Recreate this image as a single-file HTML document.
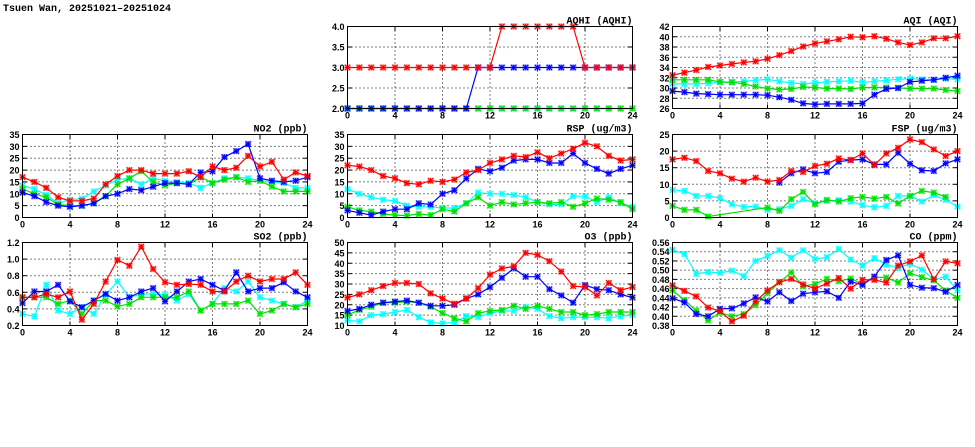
<!DOCTYPE html>
<html><head><meta charset="utf-8"><style>
html,body{margin:0;padding:0;background:#fff;width:975px;height:447px;overflow:hidden}
svg text{font-family:"Liberation Mono","DejaVu Sans Mono",monospace;}
svg text.tick{font-family:"Liberation Sans","DejaVu Sans",sans-serif;}
</style></head><body>
<svg id="chart" width="975" height="447" viewBox="0 0 975 447" xmlns="http://www.w3.org/2000/svg">
<text x="3" y="11" font-size="10" font-weight="bold" fill="#000">Tsuen Wan, 20251021–20251024</text>
</svg>
<script>
const hours = [0,1,2,3,4,5,6,7,8,9,10,11,12,13,14,15,16,17,18,19,20,21,22,23,24];
const xTicks = [0,4,8,12,16,20,24];
const seriesColors = ["#00ffff","#00e000","#0000ff","#ff0000"];
const seriesNames = ["cyan","green","blue","red"];

const aqhiTicks = [2.0,2.5,3.0,3.5,4.0];
const aqhiCyan = [2,2,2,2,2,2,2,2,2,2,2,2,2,2,2,2,2,2,2,2,2,2,2,2,2];
const aqhiGreen = [2,2,2,2,2,2,2,2,2,2,2,2,2,2,2,2,2,2,2,2,2,2,2,2,2];
const aqhiBlue = [2,2,2,2,2,2,2,2,2,2,2,3,3,3,3,3,3,3,3,3,3,3,3,3,3];
const aqhiRed = [3,3,3,3,3,3,3,3,3,3,3,3,3,4,4,4,4,4,4,4,3,3,3,3,3];

const aqiTicks = [26,28,30,32,34,36,38,40,42];
const aqiCyan = [30.8,30.8,30.8,30.9,31.1,31.2,31.3,31.5,31.7,31.3,31,30.8,31,31.2,31.3,31.4,31.1,31.3,31.5,31.7,31.8,31.7,31.6,31.8,31.7];
const aqiGreen = [31.6,31.6,31.6,31.6,31.2,31.1,30.8,30.3,29.9,29.7,29.8,30.2,30.1,29.9,29.9,29.8,30.1,30.1,30.1,30,29.9,29.9,29.9,29.6,29.4];
const aqiBlue = [29.4,29.2,28.9,28.8,28.7,28.7,28.7,28.7,28.6,28.2,27.7,27,26.8,26.9,26.9,26.9,27,28.7,29.8,30,31.2,31.4,31.6,32,32.4];
const aqiRed = [32.5,33,33.5,34.1,34.4,34.7,35,35.2,35.7,36.4,37.2,38.1,38.7,39.1,39.5,40,39.9,40.1,39.6,38.9,38.4,38.9,39.7,39.7,40.1];

const no2Ticks = [0,5,10,15,20,25,30,35];
const no2Cyan = [13.5,12,9.5,6,7.5,8,11,13.5,16,16.5,14,16.5,15.5,15,14.5,12.5,14.5,16.5,17,16.5,15.5,15,14.5,12.5,12.5];
const no2Green = [12,10,8.5,5.5,5,5,6,9,14,16.5,19.5,15,13.5,14.5,14,17,14.5,16,17,15,15.5,13,11,11,11];
const no2Blue = [10.5,9,6.5,5,4.5,5,6,9,10,12,11.5,13,14.5,14.5,14,19,19.5,25.5,28,31,16.5,15.5,15,15.5,17];
const no2Red = [17,15,12.5,8.5,7,7,8,14,17.5,20,20,18.5,18.5,18.5,19.5,17,21.5,20,21,26,21.5,23.5,16,19,17.5];

const rspTicks = [0,5,10,15,20,25,30,35];
const rspCyan = [12,10,8.5,7.5,7,5,4.5,4.5,4,4,6,10.5,10,10,9.5,8.5,6.5,5.5,5.5,9,9,6.5,8.5,6,4.5];
const rspGreen = [4.5,3,2.5,1.5,1,0.8,1.5,1,3.5,2.5,6,8.5,5,6.5,5.5,6,6.5,6,6.5,4.5,6,8,7.5,6.5,3.5];
const rspBlue = [3,2,1,2.5,3.5,3.5,6,5.5,10,11.5,16.5,20.5,19.5,21,24,24.5,24.5,23,23,27,23,20.5,18.5,20.5,22];
const rspRed = [22,21.5,20,17.5,16.5,14.5,14,15.5,15,16,19,20,23,24.5,26,25.5,27.5,25,27,29,31.5,30,26,24,24.5];

const fspTicks = [0,5,10,15,20,25];
const fspCyan = [8.3,8,6.5,6.5,5.8,4,3.2,3.3,2.3,2.5,3.5,5.5,4.3,5,5.2,4.8,3.7,3.1,3.5,6.5,6.5,4.8,6.7,5.3,3.3];
const fspGreen = [3.5,2.3,2.3,0.3,null,null,null,null,3,2,5.5,7.7,4,5.3,4.8,5.8,6.2,5.7,6.2,4.2,6.5,8,7.5,6.2,null];
const fspBlue = [null,null,null,null,null,null,null,null,null,10.5,13.3,14.5,13.3,13.7,16.8,17.3,17.5,16,16,19.5,16.2,14.2,14,16.3,17.5];
const fspRed = [17.5,18,17,14,13.3,11.7,10.8,12,10.8,11.3,14,13.7,15.5,16.2,17.8,17.3,19.3,15.8,19.3,21,23.5,22.7,20.5,18.5,20];

const so2Ticks = [0.2,0.4,0.6,0.8,1.0,1.2];
const so2Cyan = [0.34,0.31,0.69,0.38,0.34,0.42,0.34,0.57,0.73,0.54,0.58,0.58,0.57,0.5,0.58,0.38,0.46,0.65,0.61,0.73,0.54,0.5,0.46,0.42,0.5];
const so2Green = [0.54,0.54,0.54,0.46,0.5,0.34,0.5,0.5,0.43,0.46,0.54,0.54,0.54,0.54,0.61,0.38,0.46,0.46,0.46,0.5,0.34,0.38,0.46,0.42,0.46];
const so2Blue = [0.47,0.61,0.61,0.69,0.49,0.42,0.5,0.58,0.5,0.54,0.61,0.65,0.49,0.61,0.73,0.76,0.69,0.62,0.84,0.61,0.65,0.65,0.72,0.61,0.54];
const so2Red = [0.54,0.54,0.58,0.54,0.61,0.27,0.46,0.73,0.99,0.92,1.15,0.88,0.72,0.69,0.7,0.69,0.61,0.61,0.73,0.8,0.73,0.76,0.76,0.84,0.69];

const o3Ticks = [10,15,20,25,30,35,40,45,50];
const o3Cyan = [12.5,12,15,15.5,16.5,17.5,14,11.5,11,11.5,14.5,14,16,17,17,19,18,14.5,13.5,14,14,14,13.5,14.5,15];
const o3Green = [15,17.5,19,21,21,21.5,21,19,16,13.5,12,16,17,17.5,19.5,18,19.5,18,16.5,16.5,15,15.5,16.5,16.5,16.5];
const o3Blue = [17,18,20,21,21.5,22,21,19.5,19.5,20,23,25,28.5,33,37.5,33.5,33.5,27.5,24.5,21,29.5,27.5,27,25,23.5];
const o3Red = [23.5,25,27,29,30.5,30.5,30,25.5,23,20.5,23,28,34.5,37.5,38.5,45,44,41,36,29,28.5,24.5,30.5,27,28.5];

const coTicks = [0.38,0.40,0.42,0.44,0.46,0.48,0.50,0.52,0.54,0.56];
const coCyan = [0.544,0.535,0.492,0.496,0.494,0.499,0.487,0.52,0.531,0.543,0.527,0.543,0.524,0.528,0.546,0.523,0.51,0.526,0.512,0.505,0.514,0.501,0.48,0.486,0.456];
const coGreen = [0.456,0.435,0.412,0.391,0.408,0.4,0.405,0.424,0.45,0.474,0.495,0.465,0.47,0.481,0.476,0.482,0.47,0.485,0.484,0.473,0.493,0.485,0.478,0.456,0.44];
const coBlue = [0.439,0.43,0.405,0.4,0.416,0.417,0.428,0.441,0.432,0.452,0.433,0.449,0.452,0.454,0.44,0.475,0.468,0.486,0.522,0.532,0.468,0.462,0.461,0.453,0.468];
const coRed = [0.467,0.455,0.443,0.419,0.411,0.389,0.401,0.432,0.456,0.474,0.481,0.469,0.46,0.471,0.483,0.46,0.479,0.479,0.473,0.51,0.519,0.532,0.48,0.519,0.515];

const NS = "http://www.w3.org/2000/svg";
const svg = document.getElementById("chart");
function mk(tag, attrs, parent){
  const e = document.createElementNS(NS, tag);
  for (const k in attrs) e.setAttribute(k, attrs[k]);
  (parent||svg).appendChild(e);
  return e;
}
function panel(name, title, box, ticks, dec, series){
  const [x0,x1,y0,y1] = box;
  const ymin = ticks[0], ymax = ticks[ticks.length-1];
  const xs = h => x0 + (h/24)*(x1-x0);
  const ys = v => y1 - (v-ymin)/(ymax-ymin)*(y1-y0);
  const g = mk("g", {});
  
  
  ticks.forEach((t,i)=>{
    const y = ys(t);
    if (i>0 && i<ticks.length-1) {
      const l = mk("line",{x1:x0,x2:x1,y1:y,y2:y,stroke:"#000","stroke-width":1,"stroke-dasharray":"1,3"},g);
      
      
    }
    mk("line",{x1:x0,x2:x0+4,y1:y,y2:y,stroke:"#000"},g);
    mk("line",{x1:x1-4,x2:x1,y1:y,y2:y,stroke:"#000"},g);
    const tx = mk("text",{class:"tick",x:x0-3,y:y+3.5,"font-size":"9","font-weight":"bold","text-anchor":"end",fill:"#000"},g);
    tx.textContent = t.toFixed(dec);
    
    
  });
  xTicks.forEach((h,i)=>{
    const x = xs(h);
    if (i>0 && i<xTicks.length-1) {
      const l = mk("line",{x1:x,x2:x,y1:y0,y2:y1,stroke:"#000","stroke-width":1,"stroke-dasharray":"1,3"},g);
      
      
    }
    mk("line",{x1:x,x2:x,y1:y1,y2:y1-4,stroke:"#000"},g);
    mk("line",{x1:x,x2:x,y1:y0,y2:y0+4,stroke:"#000"},g);
    const tx = mk("text",{class:"tick",x:x,y:y1+10,"font-size":"9","font-weight":"bold","text-anchor":"middle",fill:"#000"},g);
    tx.textContent = String(h);
    
    
  });
  const clipId = "clip-" + name;
  const cp = mk("clipPath",{id:clipId},g);
  mk("rect",{x:x0-5,y:y0-5,width:x1-x0+10,height:y1-y0+10},cp);
  const sg = mk("g",{"clip-path":"url(#"+clipId+")"},g);
  series.forEach((vals,si)=>{
    const col = seriesColors[si];
    let d = "", pen = false;
    vals.forEach((v,i)=>{
      if (v===null){ return; }
      d += (pen ? "L" : "M") + xs(hours[i]).toFixed(1) + "," + ys(v).toFixed(1);
      pen = true;
    });
    const p = mk("path",{d:d,fill:"none",stroke:col,"stroke-width":1.2},sg);
    
    
    vals.forEach((v,i)=>{
      if (v===null) return;
      const cx = xs(hours[i]), cy = ys(v), r = 2.7;
      const m = mk("g",{},sg);
      
      
      mk("rect",{x:cx-3.2,y:cy-3.2,width:6.4,height:6.4,fill:col,opacity:0.3},m);
      mk("path",{d:`M${cx-r},${cy-r}L${cx+r},${cy+r}M${cx-r},${cy+r}L${cx+r},${cy-r}M${cx},${cy-r}L${cx},${cy+r}M${cx-r},${cy}L${cx+r},${cy}`,stroke:col,"stroke-width":1.1},m);
    });
  });
  const fr = mk("rect",{x:x0,y:y0,width:x1-x0,height:y1-y0,fill:"none",stroke:"#000","stroke-width":1},g);
  
  
  const tt = mk("text",{x:x1,y:y0-3,"font-size":"10","font-weight":"bold","text-anchor":"end",fill:"#000"},g);
  tt.textContent = title;
  
  
}
panel("aqhi","AQHI (AQHI)",[347.5,632.5,26.5,108.5],aqhiTicks,1,[aqhiCyan,aqhiGreen,aqhiBlue,aqhiRed]);
panel("aqi","AQI (AQI)",[672.5,957.5,26.5,108.5],aqiTicks,0,[aqiCyan,aqiGreen,aqiBlue,aqiRed]);
panel("no2","NO2 (ppb)",[22.5,307.5,134.5,217.5],no2Ticks,0,[no2Cyan,no2Green,no2Blue,no2Red]);
panel("rsp","RSP (ug/m3)",[347.5,632.5,134.5,217.5],rspTicks,0,[rspCyan,rspGreen,rspBlue,rspRed]);
panel("fsp","FSP (ug/m3)",[672.5,957.5,134.5,217.5],fspTicks,0,[fspCyan,fspGreen,fspBlue,fspRed]);
panel("so2","SO2 (ppb)",[22.5,307.5,242.5,325.5],so2Ticks,1,[so2Cyan,so2Green,so2Blue,so2Red]);
panel("o3","O3 (ppb)",[347.5,632.5,242.5,325.5],o3Ticks,0,[o3Cyan,o3Green,o3Blue,o3Red]);
panel("co","CO (ppm)",[672.5,957.5,242.5,325.5],coTicks,2,[coCyan,coGreen,coBlue,coRed]);
</script>
</body></html>
